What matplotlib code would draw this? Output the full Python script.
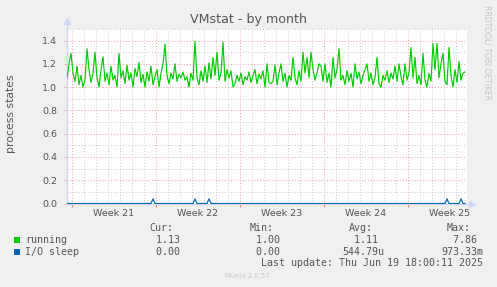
import matplotlib
matplotlib.use("Agg")
import matplotlib.pyplot as plt
import numpy as np
from matplotlib.patches import Rectangle

# ---------------- data ----------------
title = "VMstat - by month"
ylabel = "process states"
week_labels = ["Week 21", "Week 22", "Week 23", "Week 24", "Week 25"]
week_starts_h = [0, 168, 336, 504, 672]      # hours from start of Week 21
start_hour = -10                              # first sample (hours)
step_hours = 4                                # sample spacing (hours)

running = [
    1.08, 1.20, 1.29, 1.12, 1.05, 1.18, 1.02, 1.10, 1.00, 1.06,
    1.33, 1.15, 1.04, 1.12, 1.30, 1.08, 1.00, 1.15, 1.26, 1.05,
    1.12, 1.02, 1.18, 1.06, 1.10, 1.00, 1.29, 1.08, 1.14, 1.03,
    1.19, 1.06, 1.12, 1.00, 1.16, 1.09, 1.21, 1.04, 1.11, 1.00,
    1.13, 1.05, 1.18, 1.02, 1.09, 1.15, 1.00, 1.12, 1.20, 1.37,
    1.10, 1.03, 1.12, 1.07, 1.20, 1.05, 1.11, 1.08, 1.13, 1.06,
    1.09, 1.00, 1.12, 1.06, 1.395, 1.08, 1.02, 1.14, 1.05, 1.18,
    1.04, 1.21, 1.07, 1.255, 1.10, 1.30, 1.06, 1.12, 1.385, 1.05,
    1.15, 1.08, 1.14, 1.00, 1.03, 1.10, 1.05, 1.12, 1.02, 1.09,
    1.06, 1.13, 1.04, 1.10, 1.15, 1.03, 1.11, 1.07, 1.14, 1.00,
    1.20, 1.04, 1.03, 1.05, 1.19, 1.02, 1.12, 1.20, 1.05, 1.12,
    1.00, 1.10, 1.06, 1.255, 1.08, 1.02, 1.14, 1.05, 1.30, 1.12,
    1.255, 1.08, 1.30, 1.15, 1.06, 1.12, 1.20, 1.18, 1.05, 1.20,
    1.04, 1.12, 1.00, 1.255, 1.08, 1.15, 1.33, 1.06, 1.10, 1.02,
    1.14, 1.05, 1.12, 1.00, 1.20, 1.07, 1.13, 1.03, 1.10, 1.15,
    1.20, 1.05, 1.12, 1.02, 1.08, 1.255, 1.03, 1.00, 1.10, 1.06,
    1.14, 1.04, 1.12, 1.07, 1.18, 1.05, 1.20, 1.09, 1.02, 1.20,
    1.06, 1.12, 1.34, 1.08, 1.255, 1.03, 1.10, 1.02, 1.29, 1.06,
    1.00, 1.12, 1.05, 1.375, 1.15, 1.375, 1.08, 1.20, 1.29, 1.05,
    1.02, 1.34, 1.10, 1.00, 1.15, 1.04, 1.22, 1.06, 1.12, 1.13,
]

io_sleep = [
    0, 0, 0, 0, 0, 0, 0, 0, 0, 0, 0, 0, 0, 0, 0, 0, 0, 0, 0, 0,
    0, 0, 0, 0, 0, 0, 0, 0, 0, 0, 0, 0, 0, 0, 0, 0, 0, 0, 0, 0,
    0, 0, 0, 0.04, 0, 0, 0, 0, 0, 0, 0, 0, 0, 0, 0, 0, 0, 0, 0, 0,
    0, 0, 0, 0, 0.04, 0, 0, 0, 0, 0, 0, 0.04, 0, 0, 0, 0, 0, 0, 0, 0,
    0, 0, 0, 0, 0, 0, 0, 0, 0, 0, 0, 0, 0, 0, 0, 0, 0, 0, 0, 0,
    0, 0, 0, 0, 0, 0, 0, 0, 0, 0, 0, 0, 0, 0, 0, 0, 0, 0, 0, 0,
    0, 0, 0, 0, 0, 0, 0, 0, 0, 0, 0, 0, 0, 0, 0, 0, 0, 0, 0, 0,
    0, 0, 0, 0, 0, 0, 0, 0, 0, 0, 0, 0, 0, 0, 0, 0, 0, 0, 0, 0,
    0, 0, 0, 0, 0, 0, 0, 0, 0, 0, 0, 0, 0, 0, 0, 0, 0, 0, 0, 0,
    0, 0, 0, 0, 0, 0, 0, 0, 0, 0, 0.04, 0, 0, 0, 0, 0, 0, 0.04, 0, 0,
]

series_names = ["running", "I/O sleep"]
series_colors = ["#00CC00", "#0066B3"]
cur_vals = ["  1.13 ", "  0.00 "]
min_vals = ["  1.00 ", "  0.00 "]
avg_vals = ["  1.11 ", "544.79u"]
max_vals = ["  7.86 ", "973.33m"]
last_update = "Last update: Thu Jun 19 18:00:11 2025"
version = "Munin 2.0.57"
side_text = "RRDTOOL/ TOBI OETIKER"

# ---------------- figure ----------------
W, H = 497, 287
fig = plt.figure(figsize=(W / 100, H / 100), dpi=100)
fig.patch.set_facecolor("#F0F0F0")


def fx(x):
    return x / W


def fy(y):
    return 1 - y / H


ax_left, ax_right, ax_bottom, ax_top = 67, 467, 203.5, 28.9
ax = fig.add_axes([fx(ax_left), fy(ax_bottom), (ax_right - ax_left) / W, (ax_bottom - ax_top) / H])
ax.set_facecolor("white")
ax.set_xlim(-10, 790)
ax.set_ylim(0, 1.5)

TXT = "#555555"
MINOR = "#c9c9c9"
MAJOR = "#eda3a3"
AXISC = "#CFD6F8"

# grid
for h in range(0, 790, 24):
    is_major = h in week_starts_h
    ax.axvline(h, color=MAJOR if is_major else MINOR, lw=0.7,
               ls=(0, (1, 2)), zorder=1)
for k in range(1, 16):
    v = k / 10
    ax.axhline(v, color=MAJOR if k % 2 == 0 else MINOR, lw=0.7,
               ls=(0, (1, 2)), zorder=1)

hours = start_hour + step_hours * np.arange(len(running))
ax.plot(hours, running, color=series_colors[0], lw=0.85, zorder=3)
ax.plot(hours, io_sleep, color=series_colors[1], lw=0.85, zorder=3)

for s in ax.spines.values():
    s.set_visible(False)

# axes lines + arrows
ax.plot([0, 0], [0, 1.04], transform=ax.transAxes, color=AXISC, lw=1, clip_on=False, zorder=2)
ax.plot([0, 1.01], [0, 0], transform=ax.transAxes, color=AXISC, lw=1, clip_on=False, zorder=2)
ax.plot([0], [1.045], transform=ax.transAxes, marker="^", ms=4, color=AXISC, clip_on=False)
ax.plot([1.013], [0], transform=ax.transAxes, marker=">", ms=4, color=AXISC, clip_on=False)

# ticks
yt = [0.0, 0.2, 0.4, 0.6, 0.8, 1.0, 1.2, 1.4]
ax.set_yticks(yt, [f"{v:.1f}" for v in yt])
ax.tick_params(axis="y", length=2, width=0.7, color=MAJOR, pad=5,
               labelsize=6.8, labelcolor=TXT)
ax.set_xticks(week_starts_h, [""] * len(week_starts_h))
ax.tick_params(axis="x", which="major", length=2.5, width=0.8, color="#e88080")
week_centers = [w + 84 for w in week_starts_h]
ax.set_xticks(week_centers, week_labels, minor=True)
ax.tick_params(axis="x", which="minor", length=0, pad=4, labelsize=6.8, labelcolor=TXT)

# texts
fig.text(fx(248), fy(19.5), title, ha="center", va="center", fontsize=9.1, color=TXT)
fig.text(fx(11.5), fy(114), ylabel, ha="center", va="center", rotation=90, fontsize=7.8, color=TXT)
fig.text(fx(487), fy(53), side_text, ha="center", va="center", rotation=-90, fontsize=5.5, color="#c4c4c4")

mono = "DejaVu Sans Mono"
MS = 7.2
cols_x = [149.5, 249.5, 348.5, 447]
headers = ["Cur:", "Min:", "Avg:", "Max:"]
for cx, hd in zip(cols_x, headers):
    fig.text(fx(cx), fy(228), hd, ha="left", va="center", family=mono, fontsize=MS, color=TXT)

rows_y = [240, 251.7]
for i, name in enumerate(series_names):
    y = rows_y[i]
    fig.patches.append(Rectangle((fx(13.5), fy(y + 3.3)), 6.5 / W, 6.5 / H,
                                 transform=fig.transFigure, facecolor=series_colors[i],
                                 edgecolor="none"))
    fig.text(fx(25), fy(y), name, ha="left", va="center", family=mono, fontsize=MS, color=TXT)
    for cx, vals in zip(cols_x, [cur_vals, min_vals, avg_vals, max_vals]):
        fig.text(fx(cx - 6), fy(y), vals[i], ha="left", va="center", family=mono,
                 fontsize=MS, color=TXT)

fig.text(fx(483), fy(263.5), last_update, ha="right", va="center", family=mono, fontsize=MS, color=TXT)
fig.text(fx(247.5), fy(276), version, ha="center", va="center", fontsize=4.9, color="#c8c8c8")

fig.savefig("out.png", dpi=100, facecolor=fig.get_facecolor())
